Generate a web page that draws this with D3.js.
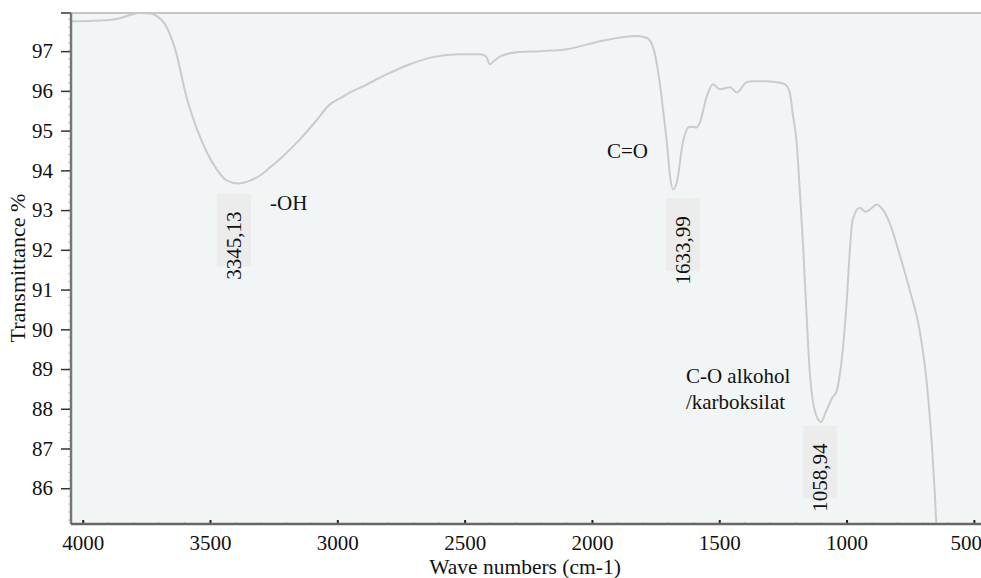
<!DOCTYPE html>
<html>
<head>
<meta charset="utf-8">
<script src="https://cdn.jsdelivr.net/npm/d3@7"></script>
<style>
  body { margin: 0; background: #fff; }
</style>
</head>
<body>
<svg id="chart"></svg>
<script>
// wave numbers (cm-1) and transmittance (%)
const waveNumbers = [4046, 3932, 3853, 3814, 3775, 3736, 3704, 3677, 3637, 3590, 3551, 3512, 3473, 3433, 3390, 3343, 3304, 3265, 3206, 3147, 3088, 3029, 2990, 2950, 2891, 2821, 2715, 2625, 2519, 2440, 2416, 2401, 2385, 2360, 2294, 2204, 2098, 1968, 1823, 1784, 1760, 1745, 1733, 1721, 1705, 1694, 1682, 1667, 1643, 1616, 1588, 1576, 1549, 1525, 1498, 1458, 1431, 1392, 1369, 1321, 1274, 1243, 1223, 1211, 1196, 1184, 1172, 1160, 1145, 1125, 1101, 1082, 1058, 1038, 1027, 1015, 999, 987, 976, 948, 925, 909, 882, 858, 831, 791, 752, 713, 686, 666, 654, 646]
const transmittance = [97.75, 97.77, 97.83, 97.91, 97.96, 97.95, 97.86, 97.68, 97.05, 95.79, 95.03, 94.45, 94.02, 93.74, 93.67, 93.74, 93.87, 94.07, 94.4, 94.78, 95.21, 95.66, 95.81, 95.96, 96.14, 96.37, 96.67, 96.85, 96.92, 96.92, 96.87, 96.67, 96.75, 96.87, 96.97, 97.0, 97.05, 97.25, 97.38, 97.33, 97.1, 96.67, 96.17, 95.54, 94.65, 93.89, 93.52, 93.69, 94.7, 95.1, 95.08, 95.21, 95.86, 96.17, 96.04, 96.09, 95.96, 96.22, 96.24, 96.24, 96.22, 96.17, 95.96, 95.4, 94.7, 93.52, 92.25, 90.74, 88.97, 87.96, 87.66, 87.91, 88.26, 88.46, 88.84, 89.47, 90.74, 92.0, 92.76, 93.06, 92.96, 93.01, 93.14, 93.01, 92.68, 91.87, 90.99, 89.98, 88.72, 87.2, 85.94, 84.9]

const xTicks = [4000, 3500, 3000, 2500, 2000, 1500, 1000, 500]
const yTicks = [86, 87, 88, 89, 90, 91, 92, 93, 94, 95, 96, 97]

// peak annotations: label text, wave number of the label box, T where the box starts
const peakLabels = ['3345,13', '1633,99', '1058,94']
const peakWn = [3406, 1642, 1104]
const peakT = [93.42, 93.30, 87.58]

// group annotations
const groupLabels = [['-OH'], ['C=O'], ['C-O alkohol', '/karboksilat']]
const groupWn = [3264, 1941, 1631]
const groupT = [93.0, 94.3, 88.66]

const width = 981, height = 578
const margin = { top: 13, right: 0, bottom: 54, left: 71 }
const serif = '"Liberation Serif", "DejaVu Serif", serif'

const svg = d3.select('#chart')
  .attr('width', width)
  .attr('height', height)
  .style('font-family', serif)

const x = d3.scaleLinear()
  .domain([4046, 472])
  .range([margin.left, width - margin.right])

const y = d3.scaleLinear()
  .domain([85.1, 97.96])
  .range([height - margin.bottom, margin.top])

const plotTop = margin.top, plotBottom = y(85.1)

svg.append('rect')
  .attr('x', margin.left).attr('y', plotTop)
  .attr('width', width - margin.left).attr('height', plotBottom - plotTop)
  .attr('fill', '#f2f5f5')

svg.append('clipPath').attr('id', 'clip')
  .append('rect')
  .attr('x', margin.left).attr('y', plotTop)
  .attr('width', width - margin.left).attr('height', plotBottom - plotTop)

// top border
svg.append('line')
  .attr('x1', margin.left).attr('x2', width)
  .attr('y1', plotTop).attr('y2', plotTop)
  .attr('stroke', '#c4c6c6').attr('stroke-width', 2)

// spectrum
const points = waveNumbers.map((w, i) => [w, transmittance[i]])
const line = d3.line()
  .x(d => x(d[0]))
  .y(d => y(d[1]))
  .curve(d3.curveMonotoneX)

svg.append('path')
  .datum(points)
  .attr('clip-path', 'url(#clip)')
  .attr('d', line)
  .attr('fill', 'none')
  .attr('stroke', '#cbcbcb')
  .attr('stroke-width', 2)

// minor ticks
const yMinor = d3.range(85.2, 97.96, 0.2)
svg.append('g').selectAll('line').data(yMinor).join('line')
  .attr('x1', margin.left - 3).attr('x2', margin.left)
  .attr('y1', d => y(d)).attr('y2', d => y(d))
  .attr('stroke', '#999').attr('stroke-width', 0.6)

const xMinor = d3.range(4000, 472, -100)
svg.append('g').selectAll('line').data(xMinor).join('line')
  .attr('x1', d => x(d)).attr('x2', d => x(d))
  .attr('y1', plotBottom - 2).attr('y2', plotBottom)
  .attr('stroke', '#999').attr('stroke-width', 0.6)

// y axis
const yAxis = d3.axisLeft(y).tickValues(yTicks).tickSize(10).tickSizeOuter(0).tickPadding(8)
const yAxisG = svg.append('g')
  .attr('transform', `translate(${margin.left},0)`)
  .call(yAxis)
yAxisG.attr('font-family', null).attr('font-size', null)
yAxisG.select('.domain').remove()
yAxisG.selectAll('.tick line').attr('stroke', '#333').attr('stroke-width', 1.5)
yAxisG.selectAll('.tick text').style('font-family', serif).style('font-size', '21px').attr('fill', '#111')
svg.append('line')
  .attr('x1', margin.left - 10).attr('x2', margin.left)
  .attr('y1', plotTop).attr('y2', plotTop)
  .attr('stroke', '#333').attr('stroke-width', 1.5)
svg.append('line')
  .attr('x1', margin.left).attr('x2', margin.left)
  .attr('y1', plotTop).attr('y2', plotBottom)
  .attr('stroke', '#777').attr('stroke-width', 2.5)

// x axis
const xAxis = d3.axisBottom(x).tickValues(xTicks).tickFormat(d3.format('d'))
  .tickSize(-4).tickSizeOuter(0).tickPadding(11)
const xAxisG = svg.append('g')
  .attr('transform', `translate(0,${plotBottom})`)
  .call(xAxis)
xAxisG.attr('font-family', null).attr('font-size', null)
xAxisG.select('.domain').remove()
xAxisG.selectAll('.tick line').attr('stroke', '#222').attr('stroke-width', 2)
xAxisG.selectAll('.tick text').style('font-family', serif).style('font-size', '21px').attr('fill', '#111')
xAxisG.selectAll('.tick text').filter(d => d === 500).attr('dx', -8)
svg.append('line')
  .attr('x1', margin.left).attr('x2', width)
  .attr('y1', plotBottom).attr('y2', plotBottom)
  .attr('stroke', '#666').attr('stroke-width', 2.5)

// axis titles
svg.append('text')
  .attr('x', 525).attr('y', 574)
  .attr('text-anchor', 'middle')
  .style('font-size', '21.5px')
  .attr('fill', '#111')
  .text('Wave numbers (cm-1)')

svg.append('text')
  .attr('transform', `translate(25,268)rotate(-90)`)
  .attr('text-anchor', 'middle')
  .style('font-size', '22px')
  .attr('fill', '#111')
  .text('Transmittance %')

// peak labels
const peaks = svg.append('g')
peakLabels.forEach((t, i) => {
  const cx = x(peakWn[i])
  const top = y(peakT[i])
  peaks.append('rect')
    .attr('x', cx - 17).attr('y', top)
    .attr('width', 34).attr('height', 73)
    .attr('fill', '#ececec')
  peaks.append('text')
    .attr('transform', `translate(${cx + 7},${top + 18})rotate(-90)`)
    .attr('text-anchor', 'end')
    .style('font-size', '21px')
    .attr('fill', '#111')
    .text(t)
})

// group labels
groupLabels.forEach((lines, i) => {
  const g = svg.append('text')
    .attr('x', x(groupWn[i])).attr('y', y(groupT[i]))
    .style('font-size', '21px')
    .attr('fill', '#111')
  lines.forEach((l, j) => {
    g.append('tspan')
      .attr('x', x(groupWn[i]))
      .attr('dy', j === 0 ? 0 : 26)
      .text(l)
  })
})
</script>
</body>
</html>
